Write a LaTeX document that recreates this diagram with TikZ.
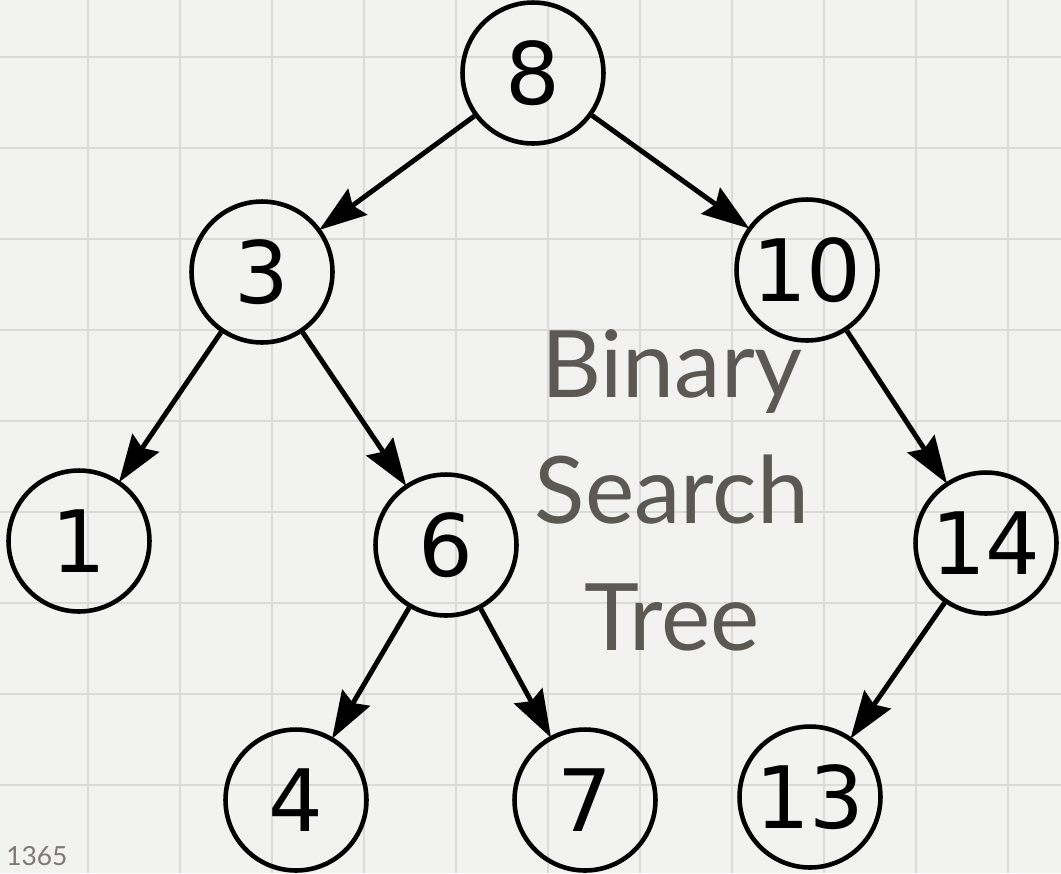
\documentclass[tikz,border=0pt]{standalone}
\usepackage{fontspec}
\usepackage{tikz}
\usetikzlibrary{arrows.meta,positioning}
\newfontfamily\digitfont{DejaVu Sans}
\newfontfamily\titlefont{Lato}
\definecolor{paper}{RGB}{242,242,240}
\definecolor{gridgrey}{RGB}{218,218,215}
\definecolor{titlegrey}{RGB}{92,88,84}

\begin{document}
\begin{tikzpicture}[
    x=0.02cm, y=-0.02cm,
    key/.style={circle, draw=black, line width=2.6pt, fill=none,
        minimum size=2.82cm, inner sep=0pt,
        font=\digitfont\fontsize{49}{49}\selectfont},
    edge/.style={-{Stealth[length=0.95cm, width=0.64cm, inset=0.12cm]},
        line width=2.8pt, black, shorten >=-1pt},
    gridline/.style={gridgrey, line width=1.2pt}
]
    \useasboundingbox (0,0) rectangle (1061,873);
    \clip (0,0) rectangle (1061,873);
    \fill[paper] (0,0) rectangle (1061,873);
    \foreach \gx in {88,180,...,1008}
        \draw[gridline] (\gx,0) -- (\gx,873);
    \foreach \gy in {57,148,...,800}
        \draw[gridline] (0,\gy) -- (1061,\gy);

    % the tree
    \node[key] (n8)  at (533,73)  {8};
    \node[key] (n3)  at (262,272) {3};
    \node[key] (n10) at (807,270) {10};
    \node[key] (n1)  at (79,541)  {1};
    \node[key] (n6)  at (446,545) {6};
    \node[key] (n14) at (986,543) {14};
    \node[key] (n4)  at (296,800) {4};
    \node[key] (n7)  at (585,800) {7};
    \node[key] (n13) at (810,797) {13};

    \draw[edge] (n8) -- (n3);
    \draw[edge] (n8) -- (n10);
    \draw[edge] (n3) -- (n1);
    \draw[edge] (n3) -- (n6);
    \draw[edge] (n10) -- (n14);
    \draw[edge] (n6) -- (n4);
    \draw[edge] (n6) -- (n7);
    \draw[edge] (n14) -- (n13);

    \node[align=center, text=titlegrey, inner sep=0pt,
        font=\titlefont\fontsize{53}{72}\selectfont] (title) at (672,490)
        {Binary\\Search\\Tree};

    \node[anchor=south west, text=titlegrey!80, inner sep=0pt,
        font=\titlefont\fontsize{15}{15}\selectfont] (pageno) at (6,866) {1365};
\end{tikzpicture}
\end{document}
